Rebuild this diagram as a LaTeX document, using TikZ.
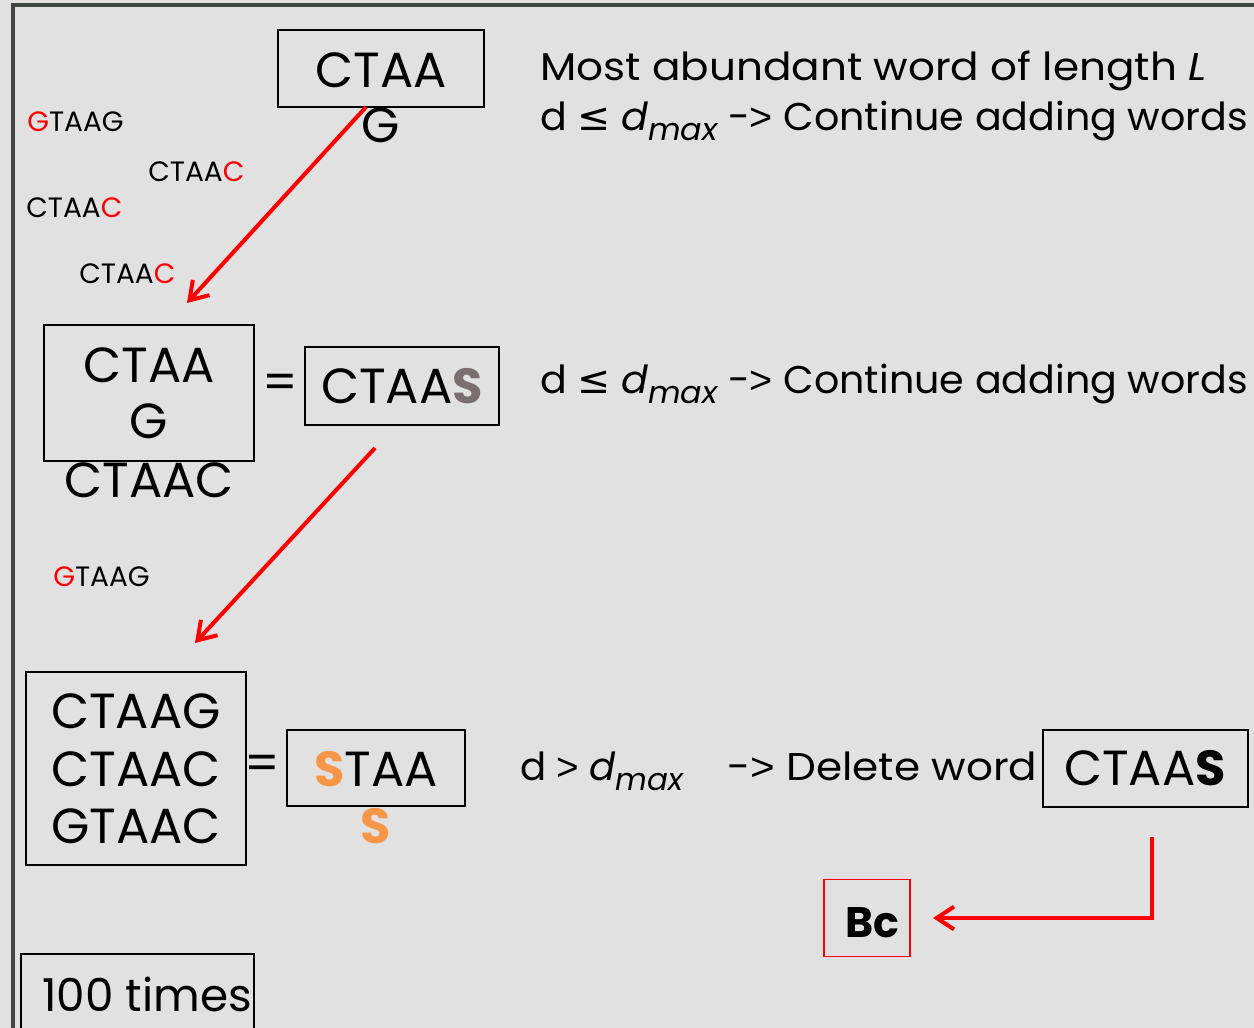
\documentclass[tikz,border=0pt]{standalone}
\usepackage{fontspec}
\setmainfont{Poppins}
\newfontfamily\symf{DejaVu Sans}
\newfontfamily\libf{Liberation Sans}
\usetikzlibrary{arrows.meta}
\definecolor{bg}{HTML}{E1E1E1}
\definecolor{framec}{HTML}{3E4843}
\definecolor{redc}{HTML}{FF0000}
\definecolor{orangec}{HTML}{F79646}
\definecolor{grays}{HTML}{796F70}
\newcommand{\dmx}{{\itshape d}\raisebox{-0.28em}{\scalebox{0.8}{\itshape max}}}
\newcommand{\arrw}{-{\libf>}}
\tikzset{
  box/.style={draw=black, line width=1.2pt, inner sep=0pt},
  txt/.style={inner sep=0pt, anchor=base},
  big/.style={txt, font=\fontsize{37}{42}\selectfont},
  small/.style={txt, anchor=base west, font=\fontsize{21}{24}\selectfont},
  rtext/.style={txt, anchor=base west, font=\fontsize{29}{32}\selectfont},
  arr/.style={draw=redc, line width=3pt, line join=miter, -{Straight Barb[length=13pt,width=17pt]}}
}
\begin{document}
\begin{tikzpicture}[x=0.75pt,y=-0.75pt]
\fill[bg] (0,0) rectangle (1254,1028);
\useasboundingbox (0,0) rectangle (1254,1028);
\draw[framec, line width=2.4pt] (13,1030) -- (13,5) -- (1256,5);

% boxes
\node[box, minimum width=206*0.75pt, minimum height=77*0.75pt] (b1) at (381,68.5) {};
\node[box, minimum width=210*0.75pt, minimum height=136*0.75pt] (b2) at (149,393) {};
\node[box, minimum width=194*0.75pt, minimum height=78*0.75pt] (b3) at (402,386) {};
\node[box, minimum width=220*0.75pt, minimum height=193*0.75pt] (b4) at (136,768.5) {};
\node[box, minimum width=178*0.75pt, minimum height=76*0.75pt] (b5) at (376,768) {};
\node[box, minimum width=205*0.75pt, minimum height=77*0.75pt] (b6) at (1145.5,768.5) {};
\node[draw=redc, line width=0.9pt, inner sep=0pt, minimum width=86*0.75pt, minimum height=77*0.75pt] (b7) at (867,918) {};
\node[box, minimum width=233*0.75pt, minimum height=90*0.75pt] (b8) at (137.5,999) {};

% big words
\node[big] (t1) at (381,87) {CTAA};
\node[big] (t1g) at (381,142) {G};
\node[big] (t2a) at (149,382) {CTAA};
\node[big] (t2b) at (149,438) {G};
\node[big] (t2c) at (149,497) {CTAAC};
\node[big] (eq1) at (280,399) {=};
\node[big] (t3) at (402,403) {CTAA{\bfseries\color{grays}S}};
\node[big] (t4a) at (136,728) {CTAAG};
\node[big] (t4b) at (136,786) {CTAAC};
\node[big] (t4c) at (136,843) {GTAAC};
\node[big] (eq2) at (262,780) {=};
\node[big] (t5) at (376,786) {{\bfseries\color{orangec}S}TAA};
\node[big] (t5s) at (376,843) {\bfseries\color{orangec}S};
\node[big] (t6) at (1145,785) {CTAA{\bfseries S}};
\node[txt, font=\fontsize{32}{36}\selectfont\bfseries] (t7) at (872,937) {Bc};
\node[txt, font=\fontsize{34}{38}\selectfont] (t8) at (147,1011) {100 times};

% small words
\node[small] (s1) at (27,131) {{\color{redc}G}TAAG};
\node[small] (s2) at (148,181) {CTAA{\color{redc}C}};
\node[small] (s3) at (26,217) {CTAA{\color{redc}C}};
\node[small] (s4) at (79,283) {CTAA{\color{redc}C}};
\node[small] (s5) at (53,586) {{\color{redc}G}TAAG};

% right texts
\node[rtext] (r1) at (540,80) {\scalebox{1.09}[1]{Most abundant word of length {\itshape L}}};
\node[rtext] (r2) at (540,130) {\scalebox{1.025}[1]{d {\symf≤} \dmx{} \arrw{} Continue adding words}};
\node[rtext] (r3) at (540,393) {\scalebox{1.025}[1]{d {\symf≤} \dmx{} \arrw{} Continue adding words}};
\node[rtext] (r4) at (520,780) {d {\libf>} \dmx};
\node[rtext] (r5) at (727,780) {\scalebox{1.09}[1]{\arrw{} Delete word}};

% arrows
\coordinate (a1s) at (366,107);
\coordinate (a1e) at (187,303);
\coordinate (a2s) at (375,448);
\coordinate (a2e) at (195,643);
\coordinate (a3s) at (1152,837);
\coordinate (a3c) at (1152,918);
\coordinate (a3e) at (933,918);
\draw[arr] (a1s) -- (a1e);
\draw[arr] (a2s) -- (a2e);
\draw[arr] (a3s) -- (a3c) -- (a3e);
\end{tikzpicture}
\end{document}
